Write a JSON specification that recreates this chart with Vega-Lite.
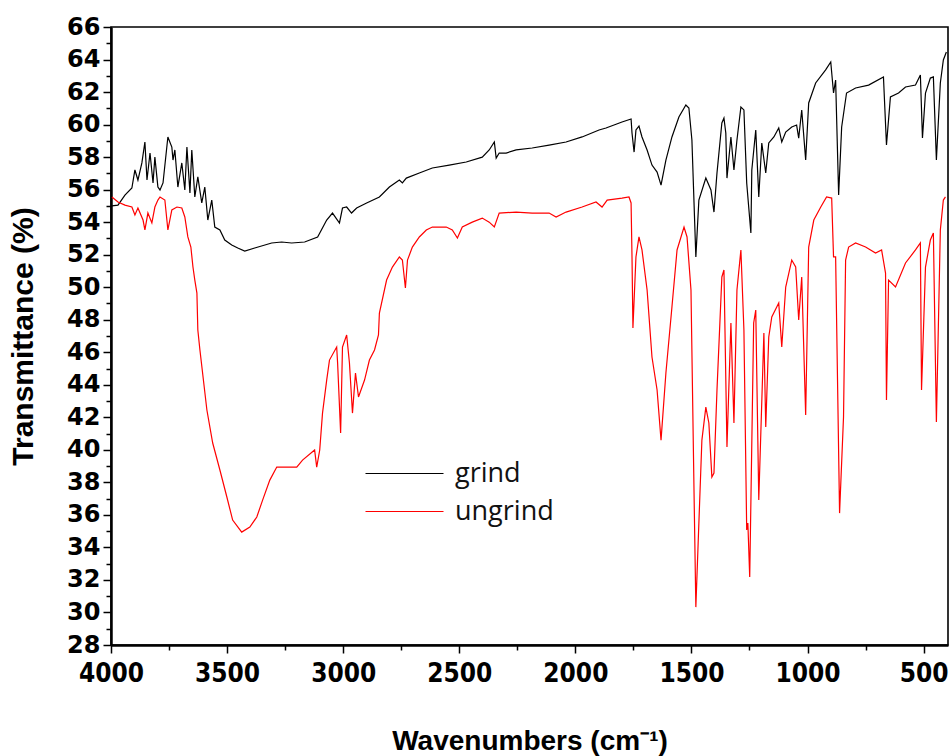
{
  "$schema": "https://vega.github.io/schema/vega-lite/v6.json",
  "autosize": {"type": "none"},
  "padding": {"left": 111, "top": 27, "right": 4, "bottom": 111},
  "width": 837,
  "height": 618,
  "background": "white",
  "config": {"view": {"stroke": "#000", "strokeWidth": 1.6}},
  "data": {"values": [
    {"s":"grind","w":3996,"t":55.0},{"s":"grind","w":3970,"t":55.05},{"s":"grind","w":3940,"t":55.66},{"s":"grind","w":3910,"t":56.1},{"s":"grind","w":3897,"t":57.21},{"s":"grind","w":3884,"t":56.59},{"s":"grind","w":3867,"t":57.64},{"s":"grind","w":3854,"t":58.93},{"s":"grind","w":3845,"t":56.59},{"s":"grind","w":3832,"t":58.25},{"s":"grind","w":3819,"t":56.41},{"s":"grind","w":3811,"t":58.0},{"s":"grind","w":3798,"t":56.16},{"s":"grind","w":3789,"t":55.98},{"s":"grind","w":3776,"t":56.41},{"s":"grind","w":3755,"t":59.24},{"s":"grind","w":3738,"t":58.62},{"s":"grind","w":3733,"t":57.82},{"s":"grind","w":3725,"t":58.44},{"s":"grind","w":3712,"t":56.16},{"s":"grind","w":3695,"t":57.64},{"s":"grind","w":3682,"t":55.98},{"s":"grind","w":3673,"t":58.62},{"s":"grind","w":3660,"t":55.79},{"s":"grind","w":3652,"t":58.44},{"s":"grind","w":3639,"t":55.55},{"s":"grind","w":3626,"t":56.78},{"s":"grind","w":3609,"t":55.18},{"s":"grind","w":3596,"t":56.16},{"s":"grind","w":3583,"t":54.13},{"s":"grind","w":3566,"t":55.36},{"s":"grind","w":3553,"t":53.7},{"s":"grind","w":3531,"t":53.52},{"s":"grind","w":3510,"t":52.9},{"s":"grind","w":3480,"t":52.59},{"s":"grind","w":3454,"t":52.41},{"s":"grind","w":3424,"t":52.22},{"s":"grind","w":3381,"t":52.41},{"s":"grind","w":3308,"t":52.72},{"s":"grind","w":3265,"t":52.78},{"s":"grind","w":3222,"t":52.72},{"s":"grind","w":3166,"t":52.78},{"s":"grind","w":3110,"t":53.09},{"s":"grind","w":3071,"t":54.13},{"s":"grind","w":3046,"t":54.56},{"s":"grind","w":3016,"t":53.95},{"s":"grind","w":3003,"t":54.87},{"s":"grind","w":2985,"t":54.93},{"s":"grind","w":2964,"t":54.56},{"s":"grind","w":2942,"t":54.87},{"s":"grind","w":2899,"t":55.18},{"s":"grind","w":2844,"t":55.55},{"s":"grind","w":2801,"t":56.16},{"s":"grind","w":2758,"t":56.59},{"s":"grind","w":2745,"t":56.41},{"s":"grind","w":2728,"t":56.71},{"s":"grind","w":2672,"t":57.02},{"s":"grind","w":2616,"t":57.33},{"s":"grind","w":2543,"t":57.51},{"s":"grind","w":2470,"t":57.7},{"s":"grind","w":2401,"t":58.0},{"s":"grind","w":2371,"t":58.44},{"s":"grind","w":2349,"t":58.93},{"s":"grind","w":2341,"t":57.94},{"s":"grind","w":2328,"t":58.25},{"s":"grind","w":2298,"t":58.25},{"s":"grind","w":2255,"t":58.44},{"s":"grind","w":2186,"t":58.56},{"s":"grind","w":2113,"t":58.74},{"s":"grind","w":2040,"t":58.93},{"s":"grind","w":1971,"t":59.24},{"s":"grind","w":1898,"t":59.67},{"s":"grind","w":1868,"t":59.79},{"s":"grind","w":1799,"t":60.16},{"s":"grind","w":1760,"t":60.34},{"s":"grind","w":1756,"t":59.48},{"s":"grind","w":1747,"t":58.31},{"s":"grind","w":1739,"t":59.67},{"s":"grind","w":1726,"t":59.91},{"s":"grind","w":1713,"t":59.24},{"s":"grind","w":1691,"t":58.44},{"s":"grind","w":1670,"t":57.51},{"s":"grind","w":1648,"t":57.08},{"s":"grind","w":1631,"t":56.28},{"s":"grind","w":1610,"t":57.82},{"s":"grind","w":1584,"t":59.24},{"s":"grind","w":1554,"t":60.47},{"s":"grind","w":1524,"t":61.2},{"s":"grind","w":1511,"t":61.02},{"s":"grind","w":1498,"t":59.05},{"s":"grind","w":1481,"t":51.86},{"s":"grind","w":1468,"t":55.36},{"s":"grind","w":1438,"t":56.71},{"s":"grind","w":1416,"t":55.98},{"s":"grind","w":1403,"t":54.62},{"s":"grind","w":1390,"t":57.02},{"s":"grind","w":1369,"t":60.1},{"s":"grind","w":1360,"t":60.4},{"s":"grind","w":1352,"t":59.48},{"s":"grind","w":1347,"t":56.71},{"s":"grind","w":1330,"t":59.24},{"s":"grind","w":1317,"t":57.21},{"s":"grind","w":1304,"t":59.05},{"s":"grind","w":1287,"t":61.08},{"s":"grind","w":1274,"t":60.9},{"s":"grind","w":1262,"t":56.41},{"s":"grind","w":1244,"t":53.33},{"s":"grind","w":1240,"t":57.21},{"s":"grind","w":1223,"t":59.67},{"s":"grind","w":1210,"t":55.55},{"s":"grind","w":1197,"t":58.87},{"s":"grind","w":1180,"t":57.02},{"s":"grind","w":1167,"t":58.87},{"s":"grind","w":1145,"t":59.24},{"s":"grind","w":1124,"t":59.79},{"s":"grind","w":1111,"t":58.93},{"s":"grind","w":1094,"t":59.54},{"s":"grind","w":1068,"t":59.85},{"s":"grind","w":1047,"t":59.97},{"s":"grind","w":1038,"t":59.17},{"s":"grind","w":1025,"t":60.9},{"s":"grind","w":1008,"t":57.82},{"s":"grind","w":995,"t":61.33},{"s":"grind","w":965,"t":62.56},{"s":"grind","w":922,"t":63.36},{"s":"grind","w":900,"t":63.85},{"s":"grind","w":888,"t":61.94},{"s":"grind","w":879,"t":62.74},{"s":"grind","w":866,"t":55.67},{"s":"grind","w":853,"t":59.85},{"s":"grind","w":832,"t":61.94},{"s":"grind","w":793,"t":62.25},{"s":"grind","w":737,"t":62.43},{"s":"grind","w":673,"t":62.93},{"s":"grind","w":660,"t":58.74},{"s":"grind","w":643,"t":61.7},{"s":"grind","w":608,"t":61.94},{"s":"grind","w":578,"t":62.31},{"s":"grind","w":535,"t":62.43},{"s":"grind","w":514,"t":63.05},{"s":"grind","w":505,"t":59.17},{"s":"grind","w":492,"t":61.94},{"s":"grind","w":471,"t":62.86},{"s":"grind","w":458,"t":62.93},{"s":"grind","w":445,"t":57.82},{"s":"grind","w":428,"t":62.56},{"s":"grind","w":415,"t":63.97},{"s":"grind","w":402,"t":64.46},
    {"s":"ungrind","w":3996,"t":55.55},{"s":"ungrind","w":3970,"t":55.24},{"s":"ungrind","w":3940,"t":55.05},{"s":"ungrind","w":3910,"t":54.93},{"s":"ungrind","w":3897,"t":54.44},{"s":"ungrind","w":3884,"t":54.87},{"s":"ungrind","w":3862,"t":54.13},{"s":"ungrind","w":3854,"t":53.52},{"s":"ungrind","w":3841,"t":54.56},{"s":"ungrind","w":3824,"t":53.95},{"s":"ungrind","w":3811,"t":54.93},{"s":"ungrind","w":3798,"t":55.36},{"s":"ungrind","w":3789,"t":55.55},{"s":"ungrind","w":3768,"t":55.36},{"s":"ungrind","w":3755,"t":53.52},{"s":"ungrind","w":3738,"t":54.75},{"s":"ungrind","w":3716,"t":54.93},{"s":"ungrind","w":3695,"t":54.87},{"s":"ungrind","w":3682,"t":54.32},{"s":"ungrind","w":3669,"t":53.09},{"s":"ungrind","w":3656,"t":52.47},{"s":"ungrind","w":3647,"t":51.24},{"s":"ungrind","w":3639,"t":50.44},{"s":"ungrind","w":3630,"t":49.64},{"s":"ungrind","w":3626,"t":47.37},{"s":"ungrind","w":3617,"t":46.14},{"s":"ungrind","w":3587,"t":42.45},{"s":"ungrind","w":3562,"t":40.42},{"s":"ungrind","w":3531,"t":38.76},{"s":"ungrind","w":3501,"t":37.1},{"s":"ungrind","w":3476,"t":35.68},{"s":"ungrind","w":3437,"t":34.94},{"s":"ungrind","w":3402,"t":35.25},{"s":"ungrind","w":3372,"t":35.87},{"s":"ungrind","w":3347,"t":36.91},{"s":"ungrind","w":3316,"t":38.14},{"s":"ungrind","w":3286,"t":38.94},{"s":"ungrind","w":3261,"t":38.94},{"s":"ungrind","w":3200,"t":38.94},{"s":"ungrind","w":3175,"t":39.37},{"s":"ungrind","w":3123,"t":39.99},{"s":"ungrind","w":3114,"t":38.94},{"s":"ungrind","w":3101,"t":39.99},{"s":"ungrind","w":3089,"t":42.26},{"s":"ungrind","w":3071,"t":44.29},{"s":"ungrind","w":3059,"t":45.52},{"s":"ungrind","w":3028,"t":46.32},{"s":"ungrind","w":3024,"t":45.34},{"s":"ungrind","w":3011,"t":41.03},{"s":"ungrind","w":3003,"t":46.32},{"s":"ungrind","w":2985,"t":47.06},{"s":"ungrind","w":2973,"t":45.34},{"s":"ungrind","w":2960,"t":42.26},{"s":"ungrind","w":2947,"t":44.72},{"s":"ungrind","w":2934,"t":43.25},{"s":"ungrind","w":2908,"t":44.29},{"s":"ungrind","w":2887,"t":45.52},{"s":"ungrind","w":2865,"t":46.14},{"s":"ungrind","w":2848,"t":47.06},{"s":"ungrind","w":2844,"t":48.41},{"s":"ungrind","w":2813,"t":50.44},{"s":"ungrind","w":2788,"t":51.24},{"s":"ungrind","w":2758,"t":51.86},{"s":"ungrind","w":2745,"t":51.67},{"s":"ungrind","w":2732,"t":49.95},{"s":"ungrind","w":2723,"t":51.67},{"s":"ungrind","w":2702,"t":52.47},{"s":"ungrind","w":2672,"t":53.09},{"s":"ungrind","w":2642,"t":53.52},{"s":"ungrind","w":2616,"t":53.7},{"s":"ungrind","w":2556,"t":53.7},{"s":"ungrind","w":2530,"t":53.52},{"s":"ungrind","w":2508,"t":53.02},{"s":"ungrind","w":2487,"t":53.7},{"s":"ungrind","w":2444,"t":54.0},{"s":"ungrind","w":2401,"t":54.25},{"s":"ungrind","w":2371,"t":54.0},{"s":"ungrind","w":2349,"t":53.7},{"s":"ungrind","w":2328,"t":54.56},{"s":"ungrind","w":2255,"t":54.62},{"s":"ungrind","w":2186,"t":54.56},{"s":"ungrind","w":2113,"t":54.56},{"s":"ungrind","w":2083,"t":54.32},{"s":"ungrind","w":2040,"t":54.62},{"s":"ungrind","w":1971,"t":54.93},{"s":"ungrind","w":1911,"t":55.24},{"s":"ungrind","w":1885,"t":54.93},{"s":"ungrind","w":1863,"t":55.36},{"s":"ungrind","w":1799,"t":55.48},{"s":"ungrind","w":1769,"t":55.55},{"s":"ungrind","w":1760,"t":55.18},{"s":"ungrind","w":1756,"t":51.86},{"s":"ungrind","w":1752,"t":47.49},{"s":"ungrind","w":1739,"t":51.86},{"s":"ungrind","w":1726,"t":53.09},{"s":"ungrind","w":1713,"t":52.29},{"s":"ungrind","w":1691,"t":49.83},{"s":"ungrind","w":1670,"t":45.71},{"s":"ungrind","w":1648,"t":43.68},{"s":"ungrind","w":1631,"t":40.6},{"s":"ungrind","w":1610,"t":44.72},{"s":"ungrind","w":1584,"t":48.78},{"s":"ungrind","w":1562,"t":52.29},{"s":"ungrind","w":1532,"t":53.7},{"s":"ungrind","w":1519,"t":53.09},{"s":"ungrind","w":1502,"t":49.83},{"s":"ungrind","w":1489,"t":37.53},{"s":"ungrind","w":1481,"t":30.33},{"s":"ungrind","w":1468,"t":35.5},{"s":"ungrind","w":1455,"t":40.6},{"s":"ungrind","w":1438,"t":42.63},{"s":"ungrind","w":1425,"t":41.65},{"s":"ungrind","w":1412,"t":38.33},{"s":"ungrind","w":1403,"t":38.57},{"s":"ungrind","w":1390,"t":43.68},{"s":"ungrind","w":1369,"t":50.63},{"s":"ungrind","w":1360,"t":51.06},{"s":"ungrind","w":1347,"t":40.17},{"s":"ungrind","w":1330,"t":47.8},{"s":"ungrind","w":1317,"t":41.65},{"s":"ungrind","w":1304,"t":49.83},{"s":"ungrind","w":1287,"t":52.29},{"s":"ungrind","w":1274,"t":47.37},{"s":"ungrind","w":1262,"t":35.07},{"s":"ungrind","w":1257,"t":35.5},{"s":"ungrind","w":1249,"t":32.18},{"s":"ungrind","w":1232,"t":47.8},{"s":"ungrind","w":1223,"t":48.6},{"s":"ungrind","w":1210,"t":36.91},{"s":"ungrind","w":1188,"t":47.18},{"s":"ungrind","w":1180,"t":41.4},{"s":"ungrind","w":1167,"t":46.94},{"s":"ungrind","w":1154,"t":48.17},{"s":"ungrind","w":1124,"t":49.03},{"s":"ungrind","w":1111,"t":46.32},{"s":"ungrind","w":1094,"t":50.01},{"s":"ungrind","w":1068,"t":51.67},{"s":"ungrind","w":1051,"t":51.24},{"s":"ungrind","w":1038,"t":47.98},{"s":"ungrind","w":1025,"t":50.63},{"s":"ungrind","w":1008,"t":42.14},{"s":"ungrind","w":995,"t":52.47},{"s":"ungrind","w":973,"t":54.13},{"s":"ungrind","w":943,"t":54.93},{"s":"ungrind","w":918,"t":55.55},{"s":"ungrind","w":896,"t":55.48},{"s":"ungrind","w":888,"t":51.86},{"s":"ungrind","w":879,"t":51.86},{"s":"ungrind","w":862,"t":36.11},{"s":"ungrind","w":845,"t":42.02},{"s":"ungrind","w":836,"t":51.67},{"s":"ungrind","w":823,"t":52.47},{"s":"ungrind","w":793,"t":52.72},{"s":"ungrind","w":750,"t":52.47},{"s":"ungrind","w":707,"t":52.1},{"s":"ungrind","w":681,"t":52.29},{"s":"ungrind","w":664,"t":50.87},{"s":"ungrind","w":660,"t":43.06},{"s":"ungrind","w":651,"t":50.44},{"s":"ungrind","w":621,"t":50.01},{"s":"ungrind","w":578,"t":51.49},{"s":"ungrind","w":535,"t":52.29},{"s":"ungrind","w":514,"t":52.72},{"s":"ungrind","w":509,"t":43.68},{"s":"ungrind","w":492,"t":51.24},{"s":"ungrind","w":471,"t":52.9},{"s":"ungrind","w":458,"t":53.33},{"s":"ungrind","w":445,"t":41.71},{"s":"ungrind","w":428,"t":53.52},{"s":"ungrind","w":415,"t":55.36},{"s":"ungrind","w":406,"t":55.55}
  ]},
  "mark": {"type": "line", "strokeWidth": 1.2, "clip": true},
  "encoding": {
    "x": {
      "field": "w", "type": "quantitative",
      "scale": {"domain": [4000, 395], "nice": false, "zero": false},
      "axis": {
        "title": "Wavenumbers (cm⁻¹)",
        "values": [4000, 3750, 3500, 3250, 3000, 2750, 2500, 2250, 2000, 1750, 1500, 1250, 1000, 750, 500],
        "format": "d",
        "labelExpr": "datum.value % 500 === 0 ? datum.label : ''",
        "labelFlush": false,
        "labelOverlap": false,
        "grid": false,
        "domainColor": "#000", "domainWidth": 2.5,
        "tickColor": "#000", "tickWidth": 1.5,
        "tickSize": {"condition": {"test": "datum.value % 500 === 0", "value": 8}, "value": 5},
        "labelFont": "DejaVu Sans Condensed", "labelFontWeight": "bold", "labelFontSize": 26, "labelColor": "#000",
        "labelPadding": 7,
        "titleFont": "Liberation Sans", "titleFontWeight": "bold", "titleFontSize": 28, "titleColor": "#000",
        "titlePadding": 41
      }
    },
    "y": {
      "field": "t", "type": "quantitative",
      "scale": {"domain": [28, 66], "nice": false, "zero": false},
      "axis": {
        "title": "Transmittance (%)",
        "values": [28,29,30,31,32,33,34,35,36,37,38,39,40,41,42,43,44,45,46,47,48,49,50,51,52,53,54,55,56,57,58,59,60,61,62,63,64,65,66],
        "labelExpr": "datum.value % 2 === 0 ? datum.label : ''",
        "labelFlush": false,
        "labelOverlap": false,
        "grid": false,
        "domainColor": "#000", "domainWidth": 2.5,
        "tickColor": "#000", "tickWidth": 1.5,
        "tickSize": {"condition": {"test": "datum.value % 2 === 0", "value": 8}, "value": 5},
        "labelFont": "DejaVu Sans", "labelFontWeight": "bold", "labelFontSize": 24, "labelColor": "#000",
        "labelPadding": 3,
        "titleFont": "Liberation Sans", "titleFontWeight": "bold", "titleFontSize": 30, "titleColor": "#000",
        "titlePadding": 28
      }
    },
    "color": {
      "field": "s", "type": "nominal",
      "scale": {"domain": ["grind", "ungrind"], "range": ["#000000", "#ff0000"]},
      "legend": {
        "orient": "none", "legendX": 280, "legendY": 433, "title": null,
        "symbolType": "M-13,0H13", "symbolSize": 36, "symbolStrokeWidth": 1.2,
        "labelFont": "Open Sans", "labelFontSize": 27, "labelColor": "#111",
        "labelOffset": 37, "rowPadding": 10
      }
    }
  }
}
